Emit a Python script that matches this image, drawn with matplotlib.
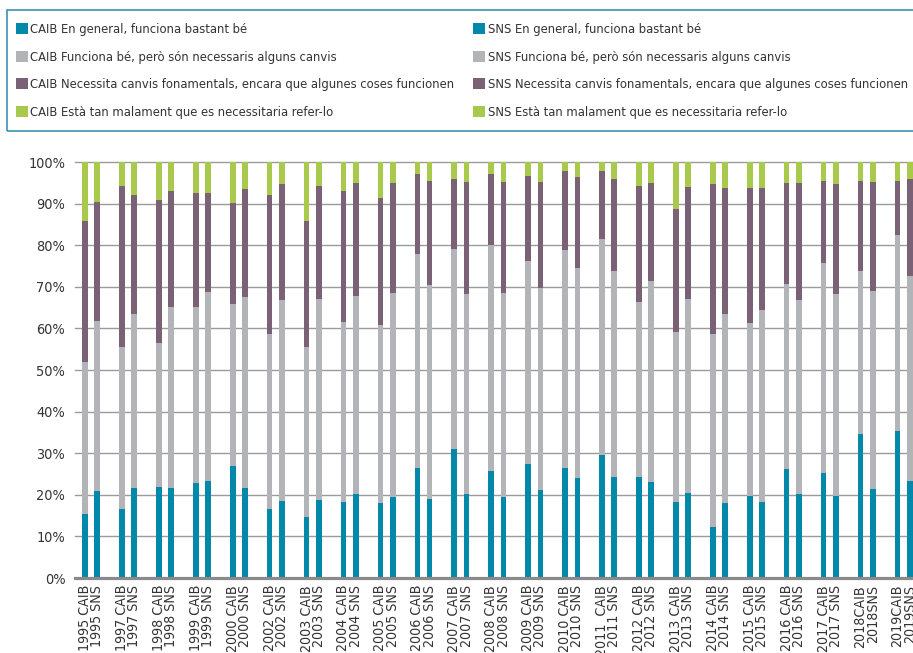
import matplotlib
matplotlib.use("Agg")
import matplotlib.pyplot as plt
from matplotlib.patches import Patch, Rectangle
from matplotlib import font_manager
import numpy as np

# ---- data -----------------------------------------------------------------
years = ["1995", "1997", "1998", "1999", "2000", "2002", "2003", "2004",
         "2005", "2006", "2007", "2008", "2009", "2010", "2011", "2012",
         "2013", "2014", "2015", "2016", "2017", "2018", "2019"]

caib_labels = ["1995 CAIB", "1997 CAIB", "1998 CAIB", "1999 CAIB", "2000 CAIB",
               "2002 CAIB", "2003 CAIB", "2004 CAIB", "2005 CAIB", "2006 CAIB",
               "2007 CAIB", "2008 CAIB", "2009 CAIB", "2010 CAIB", "2011  CAIB",
               "2012 CAIB", "2013 CAIB", "2014 CAIB", "2015 CAIB", "2016 CAIB",
               "2017 CAIB", "2018CAIB", "2019CAIB"]
sns_labels = ["1995 SNS", "1997 SNS", "1998 SNS", "1999 SNS", "2000 SNS",
              "2002 SNS", "2003 SNS", "2004 SNS", "2005 SNS", "2006 SNS",
              "2007 SNS", "2008 SNS", "2009 SNS", "2010 SNS", "2011 SNS",
              "2012 SNS", "2013 SNS", "2014 SNS", "2015 SNS", "2016 SNS",
              "2017 SNS", "2018SNS", "2019SNS"]

categories = ["En general, funciona bastant bé",
              "Funciona bé, però són necessaris alguns canvis",
              "Necessita canvis fonamentals, encara que algunes coses funcionen",
              "Està tan malament que es necessitaria refer-lo"]

# percentages per answer, CAIB
caib_good = [15.5, 16.7, 21.8, 22.8, 27.0, 16.7, 14.6, 18.3, 18.0, 26.5, 31.0, 25.8,
             27.4, 26.5, 29.5, 24.3, 18.3, 12.2, 19.7, 26.1, 25.3, 34.6, 35.4]
caib_some = [36.4, 38.8, 34.7, 42.4, 38.8, 41.9, 40.9, 43.3, 42.7, 51.4, 48.1, 54.2,
             48.8, 52.4, 51.9, 42.1, 40.8, 46.4, 41.6, 44.6, 50.5, 39.2, 47.1]
caib_fund = [33.8, 38.7, 34.4, 27.4, 24.4, 33.5, 30.2, 31.4, 30.6, 19.1, 16.9, 17.0,
             20.5, 19.0, 16.5, 27.8, 29.7, 36.0, 32.4, 24.2, 19.6, 21.6, 12.9]
caib_bad = [14.3, 5.8, 9.1, 7.4, 9.8, 7.9, 14.3, 7.0, 8.7, 3.0, 4.0, 3.0,
            3.3, 2.1, 2.1, 5.8, 11.2, 5.4, 6.3, 5.1, 4.6, 4.6, 4.6]

# percentages per answer, SNS
sns_good = [20.9, 21.6, 21.6, 23.3, 21.6, 18.5, 18.8, 20.1, 19.4, 19.1, 20.1, 19.4,
            21.2, 24.1, 24.3, 23.1, 20.4, 18.0, 18.3, 20.1, 19.7, 21.3, 23.4]
sns_some = [40.9, 41.9, 43.6, 45.5, 46.0, 48.3, 48.3, 47.6, 49.1, 51.3, 48.2, 49.1,
            48.5, 50.5, 49.5, 48.2, 46.7, 45.5, 46.1, 46.7, 48.6, 47.6, 49.2]
sns_fund = [28.5, 28.6, 27.8, 23.8, 26.0, 27.8, 27.1, 27.2, 26.4, 25.0, 26.8, 26.6,
            25.4, 21.7, 22.0, 23.6, 26.8, 30.2, 29.3, 28.1, 26.3, 26.2, 23.2]
sns_bad = [9.7, 7.9, 7.0, 7.4, 6.4, 5.4, 5.8, 5.1, 5.1, 4.6, 4.9, 4.9,
           4.9, 3.7, 4.2, 5.1, 6.1, 6.3, 6.3, 5.1, 5.4, 4.9, 4.2]

colors = ["#0288A8", "#B3B4B8", "#7A6175", "#A9C94C"]

# ---- font: prefer a narrow face ---------------------------------------------
fonts = font_manager.fontManager.ttflist
family, stretch = "DejaVu Sans", "normal"
if any(f.name == "Liberation Sans Narrow" for f in fonts):
    family = "Liberation Sans Narrow"
elif any(f.name == "DejaVu Sans" and str(f.stretch) in ("condensed", "semi-condensed")
         for f in fonts):
    family, stretch = "DejaVu Sans", "condensed"
elif any(f.name == "Roboto" for f in fonts):
    family = "Roboto"
plt.rcParams["font.family"] = [family, "DejaVu Sans"]
plt.rcParams["font.stretch"] = stretch
text_color = "#333333"

# ---- figure ---------------------------------------------------------------
W, H = 913, 653
fig = plt.figure(figsize=(W / 100, H / 100), dpi=100)
renderer = fig.canvas.get_renderer()


def fit_size(s, target_px, base=10.0):
    t = fig.text(0, 0, s, fontsize=base)
    w = t.get_window_extent(renderer).width
    t.remove()
    return base * target_px / w


legend_fs = fit_size("CAIB Necessita canvis fonamentals, encara que algunes coses funcionen", 425)
tick_fs = fit_size("1995 CAIB", 66)
ytick_fs = fit_size("100%", 37)

ax_left, ax_bottom, ax_top = 75, 578, 162
ax = fig.add_axes([ax_left / W, (H - ax_bottom) / H, 1 - ax_left / W,
                   (ax_bottom - ax_top) / H])

n = len(years)
caib_x = np.arange(n) * 3
sns_x = caib_x + 1
bw = 0.46

caib_series = [caib_good, caib_some, caib_fund, caib_bad]
sns_series = [sns_good, sns_some, sns_fund, sns_bad]

bottom = np.zeros(n)
for vals, c in zip(caib_series, colors):
    ax.bar(caib_x, vals, bw, bottom=bottom, color=c, zorder=3, linewidth=0)
    bottom += np.array(vals)
bottom = np.zeros(n)
for vals, c in zip(sns_series, colors):
    ax.bar(sns_x, vals, bw, bottom=bottom, color=c, zorder=3, linewidth=0)
    bottom += np.array(vals)

ax.set_ylim(0, 100)
ax.set_xlim(-0.81, -0.81 + (W - ax_left) / 12.31)

for y in range(10, 101, 10):
    ax.axhline(y, color="#9a9a9a", lw=1.0, zorder=1, clip_on=False)
ax.axhline(0, color="#8a8a8a", lw=2.3, zorder=4, clip_on=False)

for s in ax.spines.values():
    s.set_visible(False)

ax.set_yticks(range(0, 101, 10))
ax.set_yticklabels([f"{v}%" for v in range(0, 101, 10)])
ticks = np.concatenate([caib_x, sns_x])
labels = caib_labels + sns_labels
ax.set_xticks(ticks)
ax.set_xticklabels(labels, rotation=90, va="top", ha="center")
ax.tick_params(axis="y", length=0, pad=7, labelsize=ytick_fs, labelcolor=text_color)
ax.tick_params(axis="x", length=0, pad=5, labelsize=tick_fs, labelcolor=text_color)

# ---- legend ---------------------------------------------------------------
fig.patches.append(Rectangle((7 / W, (H - 131) / H), 1.2, (131 - 10) / H,
                             transform=fig.transFigure, fill=False,
                             edgecolor="#3A90B6", lw=1.2))

fs_px = legend_fs * 100 / 72
for prefix, x0 in [("CAIB", 16), ("SNS", 473)]:
    handles = [Patch(facecolor=c, edgecolor="none", label=f"{prefix} {cat}")
               for c, cat in zip(colors, categories)]
    fig.legend(handles=handles, loc="upper left",
               bbox_to_anchor=(x0 / W, (H - 23) / H), frameon=False,
               fontsize=legend_fs, handlelength=12 / fs_px, handleheight=12 / fs_px,
               handletextpad=2.5 / fs_px, labelspacing=1.13, borderpad=0,
               borderaxespad=0, labelcolor=text_color)

fig.savefig("out.png", dpi=100)
